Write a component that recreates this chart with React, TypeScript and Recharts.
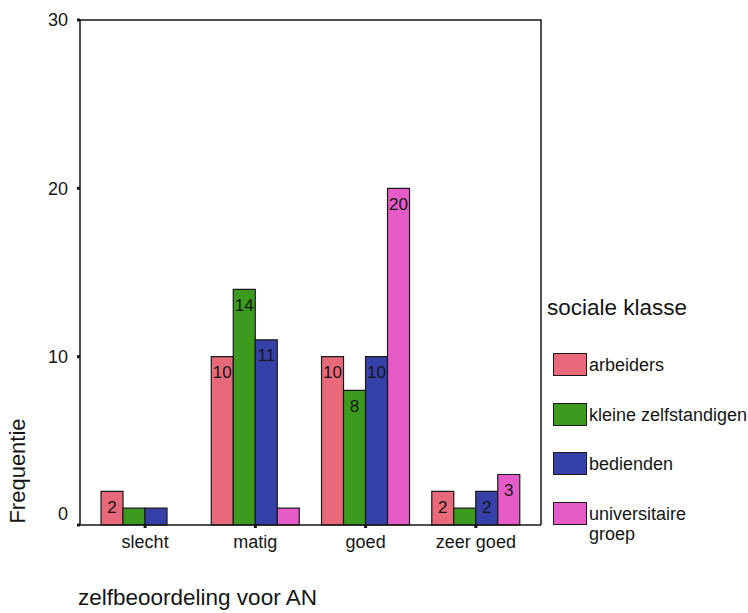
import React from "react";
import * as Recharts from "recharts";
import { BarChart, Bar, XAxis, YAxis, LabelList, Label } from "recharts";

const categories = ["slecht", "matig", "goed", "zeer goed"];
const arbeiders = [2, 10, 10, 2];
const kleineZelfstandigen = [1, 14, 8, 1];
const bedienden = [1, 11, 10, 2];
const universitaireGroep = [0, 1, 20, 3];
const yTicks = [0, 10, 20, 30];

const seriesKeys = ["arbeiders", "kleine", "bedienden", "univ"];
const seriesNames = ["arbeiders", "kleine zelfstandigen", "bedienden", "universitaire\ngroep"];
const seriesColors = ["#E8697A", "#3C9A1E", "#3540A8", "#E65BC8"];
const seriesValues = [arbeiders, kleineZelfstandigen, bedienden, universitaireGroep];

const data = categories.map((cat, i) => {
  const row: Record<string, string | number> = { cat };
  seriesKeys.forEach((k, s) => {
    row[k] = seriesValues[s][i];
  });
  return row;
});

const FONT = "'Liberation Sans', Arial, sans-serif";
const INK = "#151515";
const CHART_W = 748;
const CHART_H = 613;

const BarValueLabel = (props: any) => {
  const { x, y, width, value } = props;
  if (value == null || value < 2) return null;
  return (
    <text
      x={x + width / 2}
      y={y + 16}
      textAnchor="middle"
      dominantBaseline="central"
      fontSize={17}
      fontFamily={FONT}
      fill={INK}
    >
      {value}
    </text>
  );
};

const YTick = (props: any) => {
  const { x, y, payload } = props;
  const shift = payload.value === 0 ? -11 : 0;
  return (
    <text
      x={x}
      y={y + shift}
      dy="0.355em"
      textAnchor="end"
      fontSize={18}
      fontFamily={FONT}
      fill={INK}
    >
      {payload.value}
    </text>
  );
};

const R: any = Recharts;
const usePlotAreaSafe: () => any = R.usePlotArea
  ? R.usePlotArea
  : () => {
      const o = R.useOffset ? R.useOffset() : null;
      if (!o) return null;
      return { x: o.left, y: o.top, width: CHART_W - o.left - o.right, height: CHART_H - o.top - o.bottom };
    };

const PlotFrame = () => {
  const area = usePlotAreaSafe();
  if (!area) return null;
  const { x, y, width, height } = area;
  return (
    <path
      d={`M${x},${y} L${x + width},${y} L${x + width},${y + height}`}
      fill="none"
      stroke={INK}
      strokeWidth={1.5}
    />
  );
};

const legendTops = [353, 403, 452, 502];

export default function App() {
  return (
    <div style={{ position: "absolute", left: 0, top: 0, width: CHART_W, height: CHART_H, background: "#fff", fontFamily: FONT }}>
      <BarChart
        width={CHART_W}
        height={CHART_H}
        data={data}
        margin={{ top: 20, right: 207, left: 0, bottom: 0 }}
        barCategoryGap="10%"
        barGap={0}
      >
        <XAxis
          dataKey="cat"
          height={88}
          padding={{ left: 10, right: 10 }}
          axisLine={{ stroke: INK, strokeWidth: 1.5 }}
          tickLine={{ stroke: INK, strokeWidth: 3 }}
          tickSize={3}
          tickMargin={7}
          tick={{ fontSize: 18, fontFamily: FONT, fill: INK }}
        >
          <Label
            value="zelfbeoordeling voor AN"
            content={() => (
              <text x={78} y={605} textAnchor="start" fontSize={22.5} fontFamily={FONT} fill={INK}>
                zelfbeoordeling voor AN
              </text>
            )}
          />
        </XAxis>
        <YAxis
          domain={[0, 30]}
          ticks={yTicks}
          width={80}
          axisLine={{ stroke: INK, strokeWidth: 1.5 }}
          tickLine={{ stroke: INK, strokeWidth: 3 }}
          tickSize={3}
          tickMargin={9}
          tick={<YTick />}
        >
          <Label
            value="Frequentie"
            content={() => (
              <text
                x={25}
                y={471}
                transform="rotate(-90 25 471)"
                textAnchor="middle"
                fontSize={22}
                fontFamily={FONT}
                fill={INK}
              >
                Frequentie
              </text>
            )}
          />
        </YAxis>
        {seriesKeys.map((k, s) => (
          <Bar
            key={k}
            dataKey={k}
            name={seriesNames[s]}
            fill={seriesColors[s]}
            stroke="#1a1a1a"
            strokeWidth={1.2}
            isAnimationActive={false}
          >
            <LabelList dataKey={k} content={<BarValueLabel />} />
          </Bar>
        ))}
        <PlotFrame />
      </BarChart>
      <div
        style={{
          position: "absolute",
          left: 547,
          top: 297,
          fontSize: 22.5,
          lineHeight: "22.5px",
          color: INK,
          whiteSpace: "nowrap",
        }}
      >
        sociale klasse
      </div>
      {seriesNames.map((n, s) => (
        <React.Fragment key={n}>
          <div
            style={{
              position: "absolute",
              left: 553,
              top: legendTops[s],
              width: 32,
              height: 21,
              background: seriesColors[s],
              border: "1.2px solid #1a1a1a",
            }}
          />
          <div
            style={{
              position: "absolute",
              left: 589,
              top: legendTops[s] + 2,
              fontSize: 18,
              lineHeight: "20px",
              color: INK,
              whiteSpace: "pre",
            }}
          >
            {n}
          </div>
        </React.Fragment>
      ))}
    </div>
  );
}
